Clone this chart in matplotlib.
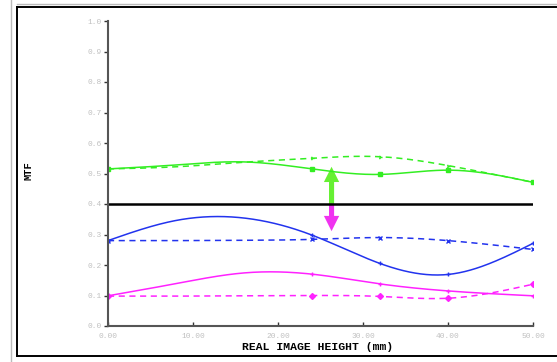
import numpy as np
import matplotlib
matplotlib.use("Agg")
import matplotlib.pyplot as plt
from matplotlib.lines import Line2D
from matplotlib.patches import FancyArrow

# Field heights (mm) where MTF was sampled; markers sit on the listed indices
field = [0.0, 8.0, 16.0, 24.0, 32.0, 40.0, 50.0]
marker_idx = [0, 3, 4, 5, 6]

# MTF per spatial frequency: T = tangential (solid), S = sagittal (dashed)
green_T = [0.515, 0.528, 0.538, 0.515, 0.497, 0.511, 0.471]
green_S = [0.515, 0.522, 0.537, 0.550, 0.555, 0.526, 0.471]
blue_T = [0.280, 0.346, 0.354, 0.298, 0.205, 0.169, 0.271]
blue_S = [0.280, 0.280, 0.281, 0.284, 0.290, 0.280, 0.251]
mag_T = [0.099, 0.139, 0.174, 0.170, 0.138, 0.115, 0.099]
mag_S = [0.098, 0.098, 0.099, 0.100, 0.097, 0.091, 0.137]

threshold = 0.40
arrow_x = 26.3
arrow_top = 0.522
arrow_bottom = 0.311

xticks = [0, 10, 20, 30, 40, 50]
xtick_labels = ["0.00", "10.00", "20.00", "30.00", "40.00", "50.00"]
yticks = [0.0, 0.1, 0.2, 0.3, 0.4, 0.5, 0.6, 0.7, 0.8, 0.9, 1.0]
ytick_labels = ["0.0", "0.1", "0.2", "0.3", "0.4", "0.5", "0.6", "0.7", "0.8", "0.9", "1.0"]

GREEN = "#33ee22"
BLUE = "#2233ee"
MAGENTA = "#ff22ff"


def natural_spline(x, y, n=300):
    x = np.asarray(x, float)
    y = np.asarray(y, float)
    m = len(x)
    h = np.diff(x)
    A = np.zeros((m, m))
    b = np.zeros(m)
    A[0, 0] = A[-1, -1] = 1.0
    for i in range(1, m - 1):
        A[i, i - 1] = h[i - 1]
        A[i, i] = 2 * (h[i - 1] + h[i])
        A[i, i + 1] = h[i]
        b[i] = 3 * ((y[i + 1] - y[i]) / h[i] - (y[i] - y[i - 1]) / h[i - 1])
    c = np.linalg.solve(A, b)
    xs = np.linspace(x[0], x[-1], n)
    ys = np.empty_like(xs)
    for k, xv in enumerate(xs):
        i = min(np.searchsorted(x, xv, side="right") - 1, m - 2)
        dx = xv - x[i]
        bi = (y[i + 1] - y[i]) / h[i] - h[i] * (2 * c[i] + c[i + 1]) / 3
        di = (c[i + 1] - c[i]) / (3 * h[i])
        ys[k] = y[i] + bi * dx + c[i] * dx ** 2 + di * dx ** 3
    return xs, ys


fig = plt.figure(figsize=(5.57, 3.62), dpi=100)
ax = fig.add_axes([108 / 557, 36 / 362, 425 / 557, 305 / 362])

series = [
    (green_T, GREEN, "-", "s"),
    (green_S, GREEN, (0, (4, 3)), "4"),
    (blue_T, BLUE, "-", "+"),
    (blue_S, BLUE, (0, (4, 3)), "x"),
    (mag_T, MAGENTA, "-", "+"),
    (mag_S, MAGENTA, (0, (4, 3)), "D"),
]
for vals, col, ls, mk in series:
    xs, ys = natural_spline(field, vals)
    ax.plot(xs, ys, color=col, lw=1.1, ls=ls)
    ax.plot([field[i] for i in marker_idx], [vals[i] for i in marker_idx],
            ls="none", marker=mk, ms=3, color=col, mew=1.0)

ax.plot([field[0], field[-1]], [threshold, threshold], color="black", lw=1.8)

# double-headed indicator: upper half green, lower half magenta
ax.add_patch(FancyArrow(arrow_x, threshold, 0, arrow_top - threshold,
                        width=0.6, head_width=1.8, head_length=0.05,
                        length_includes_head=True, color="#66f033", lw=0))
ax.add_patch(FancyArrow(arrow_x, threshold, 0, arrow_bottom - threshold,
                        width=0.6, head_width=1.8, head_length=0.05,
                        length_includes_head=True, color="#f033f0", lw=0))

ax.set_xlim(0, 50)
ax.set_ylim(0, 1.0)
ax.set_xticks(xticks)
ax.set_xticklabels(xtick_labels)
ax.set_yticks(yticks)
ax.set_yticklabels(ytick_labels)
for s in ["top", "right"]:
    ax.spines[s].set_visible(False)
for s in ["left", "bottom"]:
    ax.spines[s].set_color("#555555")
    ax.spines[s].set_linewidth(1.5)
ax.tick_params(axis="x", direction="in", length=3, width=1, color="#333333",
               labelsize=5.7, labelcolor="#c0c0c0", pad=5)
ax.tick_params(axis="y", direction="out", length=3, width=1, color="#333333",
               labelsize=5.7, labelcolor="#c0c0c0", pad=1.5)
for lab in ax.get_xticklabels() + ax.get_yticklabels():
    lab.set_family("Liberation Mono")
ax.patch.set_alpha(0)

fig.text(28 / 557, 1 - 171 / 362, "MTF", rotation=90, ha="center", va="center",
         fontsize=7.5, fontweight="bold", family="Liberation Mono")
fig.text(318 / 557, 1 - 347 / 362, "REAL IMAGE HEIGHT (mm)", ha="center",
         va="center", fontsize=8.2, fontweight="bold", family="Liberation Mono")

# window frame
W, H = 557, 362
def fline(x0, y0, x1, y1, col, lw):
    fig.add_artist(Line2D([x0 / W, x1 / W], [1 - y0 / H, 1 - y1 / H],
                          color=col, lw=lw, transform=fig.transFigure))

fline(11, 0, 11, 362, "#bbbbbb", 1.0)
fline(17, 4, 557, 4, "#bbbbbb", 1.0)
fline(17, 6.5, 557, 6.5, "black", 1.4)
fline(17, 6.5, 17, 356, "black", 1.4)
fline(17, 356, 557, 356, "black", 1.4)

fig.savefig("out.png", dpi=100)
